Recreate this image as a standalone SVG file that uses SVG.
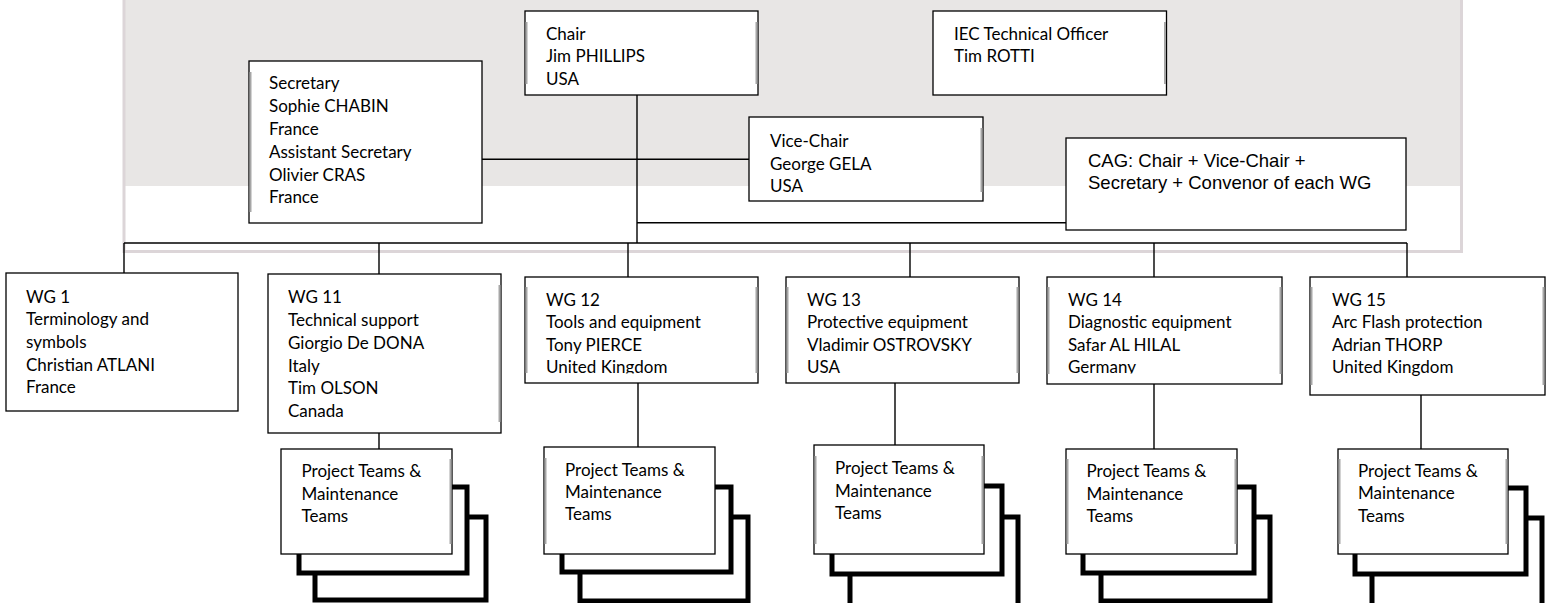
<svg xmlns="http://www.w3.org/2000/svg" width="1552" height="603" viewBox="0 0 1552 603">
<style>
.box{fill:#fff;stroke:#000;stroke-width:1.3}
.t{font-family:Lato,"Liberation Sans",sans-serif;font-size:17px;fill:#000}
.ta{font-family:"Liberation Sans",Arial,sans-serif;font-size:18.5px;fill:#000}
.ln{stroke:#000;stroke-width:1.4;fill:none}
.sh{fill:#fff;stroke:#000;stroke-width:5}
.ge{stroke:#a6a6a6;stroke-width:2}
</style>
<defs>
<clipPath id="c12"><rect x="525" y="277" width="233" height="96.5"/></clipPath>
<clipPath id="c14"><rect x="1047" y="277" width="235" height="96.5"/></clipPath>
</defs>
<rect width="1552" height="603" fill="#fff"/>
<g id="frame">
<rect x="124" y="-5" width="1338" height="191" fill="#e8e6e5"/>
<path d="M124,-5 V251.5 H1461.5 V-5" fill="none" stroke="#dcd5d8" stroke-width="3"/>
</g>
<g id="connectors">
<path class="ln" d="M482,159.3 H749"/>
<path class="ln" d="M637,95 V243"/>
<path class="ln" d="M637,222.7 H1066"/>
<path class="ln" d="M124,243 H1407"/>
<path class="ln" d="M124,243 V273 M379,243 V274 M628,243 V277 M910,243 V277 M1154,243 V277 M1407,243 V277"/>
<path class="ln" d="M379,433 V449 M638,383 V447 M895,383 V445 M1154,384 V449 M1421,395 V449"/>
</g>
<g id="chair">
<rect class="box" x="525" y="11" width="233" height="84"/>
<path class="ge" d="M526.5,22 V84 M756.5,22 V84"/>
<text class="t"><tspan x="546" y="39.5">Chair</tspan><tspan x="546" y="62.3">Jim PHILLIPS</tspan><tspan x="546" y="85.1">USA</tspan></text>
</g>
<g id="iec">
<rect class="box" x="933" y="11" width="233.5" height="84"/>
<path class="ge" d="M1165,22 V84"/>
<text class="t"><tspan x="954" y="39.5">IEC Technical Officer</tspan><tspan x="954" y="62">Tim ROTTI</tspan></text>
</g>
<g id="secretary">
<rect class="box" x="249" y="61" width="233" height="162"/>
<path class="ge" d="M250.5,72 V212"/>
<text class="t"><tspan x="269" y="89.3">Secretary</tspan><tspan x="269" y="112.1">Sophie CHABIN</tspan><tspan x="269" y="134.9">France</tspan><tspan x="269" y="157.7">Assistant Secretary</tspan><tspan x="269" y="180.5">Olivier CRAS</tspan><tspan x="269" y="203.3">France</tspan></text>
</g>
<g id="vicechair">
<rect class="box" x="749" y="117" width="234" height="84"/>
<path class="ge" d="M981.5,128 V192"/>
<text class="t"><tspan x="770" y="146.7">Vice-Chair</tspan><tspan x="770" y="169.5">George GELA</tspan><tspan x="770" y="192.3">USA</tspan></text>
</g>
<g id="cag">
<rect class="box" x="1066" y="138" width="340" height="92"/>
<text class="ta"><tspan x="1088" y="167">CAG: Chair + Vice-Chair +</tspan><tspan x="1088" y="189.3">Secretary + Convenor of each WG</tspan></text>
</g>
<g id="wg1">
<rect class="box" x="6" y="273" width="232" height="138"/>
<text class="t"><tspan x="26" y="302.7">WG 1</tspan><tspan x="26" y="325.3">Terminology and</tspan><tspan x="26" y="348">symbols</tspan><tspan x="26" y="370.7">Christian ATLANI</tspan><tspan x="26" y="393.3">France</tspan></text>
</g>
<g id="wg11">
<rect class="box" x="268" y="274" width="233" height="159"/>
<path class="ge" d="M499.5,285 V422"/>
<text class="t"><tspan x="288" y="303.3">WG 11</tspan><tspan x="288" y="326">Technical support</tspan><tspan x="288" y="348.7">Giorgio De DONA</tspan><tspan x="288" y="371.5">Italy</tspan><tspan x="288" y="394">Tim OLSON</tspan><tspan x="288" y="416.8">Canada</tspan></text>
</g>
<g id="wg12">
<rect class="box" x="525" y="277" width="233" height="106"/>
<path class="ge" d="M526.5,287 V373 M756.5,287 V373"/>
<text class="t" clip-path="url(#c12)"><tspan x="546" y="305.5">WG 12</tspan><tspan x="546" y="328">Tools and equipment</tspan><tspan x="546" y="350.5">Tony PIERCE</tspan><tspan x="546" y="372.5">United Kingdom</tspan></text>
</g>
<g id="wg13">
<rect class="box" x="786" y="277" width="233" height="106"/>
<path class="ge" d="M787.5,287 V373 M1017.5,287 V373"/>
<text class="t"><tspan x="807" y="305.5">WG 13</tspan><tspan x="807" y="328">Protective equipment</tspan><tspan x="807" y="350.5">Vladimir OSTROVSKY</tspan><tspan x="807" y="372.5">USA</tspan></text>
</g>
<g id="wg14">
<rect class="box" x="1047" y="277" width="235" height="107"/>
<path class="ge" d="M1048.5,287 V374 M1280.5,287 V374"/>
<text class="t" clip-path="url(#c14)"><tspan x="1068" y="305.5">WG 14</tspan><tspan x="1068" y="328">Diagnostic equipment</tspan><tspan x="1068" y="350.5">Safar AL HILAL</tspan><tspan x="1068" y="372.5">Germany</tspan></text>
</g>
<g id="wg15">
<rect class="box" x="1310" y="277" width="235" height="118"/>
<path class="ge" d="M1311.5,287 V385 M1543.5,287 V385"/>
<text class="t"><tspan x="1332" y="305.5">WG 15</tspan><tspan x="1332" y="328">Arc Flash protection</tspan><tspan x="1332" y="350.5">Adrian THORP</tspan><tspan x="1332" y="373.3">United Kingdom</tspan></text>
</g>
<g id="pt11">
<rect class="sh" x="315" y="517" width="171" height="83"/>
<rect class="sh" x="299" y="487" width="168" height="86"/>
<rect class="box" x="281" y="449" width="171" height="105"/>
<path class="ge" d="M450.5,459 V544"/>
<text class="t"><tspan x="301.5" y="477.3">Project Teams &amp;</tspan><tspan x="301.5" y="499.8">Maintenance</tspan><tspan x="301.5" y="522">Teams</tspan></text>
</g>
<g id="pt12">
<rect class="sh" x="580" y="517" width="168" height="84"/>
<rect class="sh" x="562" y="487" width="169" height="85"/>
<rect class="box" x="544" y="447" width="171" height="107"/>
<path class="ge" d="M545.5,458 V544"/>
<text class="t"><tspan x="565" y="475.7">Project Teams &amp;</tspan><tspan x="565" y="498">Maintenance</tspan><tspan x="565" y="520">Teams</tspan></text>
</g>
<g id="pt13">
<rect class="sh" x="850" y="517" width="168" height="90"/>
<rect class="sh" x="832" y="486" width="170" height="88"/>
<rect class="box" x="814" y="445" width="170" height="109"/>
<path class="ge" d="M815.5,456 V544 M982.5,456 V544"/>
<text class="t"><tspan x="835" y="474.3">Project Teams &amp;</tspan><tspan x="835" y="496.8">Maintenance</tspan><tspan x="835" y="519">Teams</tspan></text>
</g>
<g id="pt14">
<rect class="sh" x="1101" y="517" width="169" height="84"/>
<rect class="sh" x="1083" y="487" width="171" height="86"/>
<rect class="box" x="1066" y="449" width="171" height="105"/>
<path class="ge" d="M1067.5,459 V544 M1235.5,459 V544"/>
<text class="t"><tspan x="1086.5" y="477.3">Project Teams &amp;</tspan><tspan x="1086.5" y="499.8">Maintenance</tspan><tspan x="1086.5" y="522">Teams</tspan></text>
</g>
<g id="pt15">
<rect class="sh" x="1372" y="518" width="170" height="90"/>
<rect class="sh" x="1355" y="488" width="171" height="86"/>
<rect class="box" x="1338" y="449" width="170" height="105"/>
<path class="ge" d="M1339.5,459 V544 M1506.5,459 V544"/>
<text class="t"><tspan x="1358" y="476.7">Project Teams &amp;</tspan><tspan x="1358" y="499.2">Maintenance</tspan><tspan x="1358" y="521.5">Teams</tspan></text>
</g>
</svg>
